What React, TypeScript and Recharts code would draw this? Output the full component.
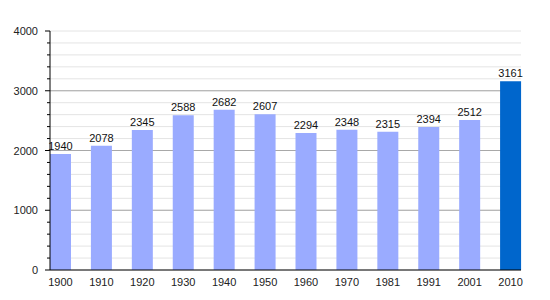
import { BarChart, Bar, XAxis, YAxis, CartesianGrid, LabelList, Cell } from "recharts";

const years = ["1900", "1910", "1920", "1930", "1940", "1950", "1960", "1970", "1981", "1991", "2001", "2010"];
const population = [1940, 2078, 2345, 2588, 2682, 2607, 2294, 2348, 2315, 2394, 2512, 3161];
const yTicks = [0, 200, 400, 600, 800, 1000, 1200, 1400, 1600, 1800, 2000, 2200, 2400, 2600, 2800, 3000, 3200, 3400, 3600, 3800, 4000];
const majorTicks = [1000, 2000, 3000];

const data = years.map((year, i) => ({ year, population: population[i] }));

const FONT = "'Liberation Sans', Arial, Helvetica, sans-serif";

const YTick = (props: any) => {
  const { x, y, payload } = props;
  const major = payload.value % 1000 === 0;
  return (
    <g>
      <line x1={x - (major ? 5 : 3)} x2={x} y1={y} y2={y} stroke="#000" strokeWidth={1} />
      {major && (
        <text x={x - 12} y={y} textAnchor="end" dominantBaseline="central" fontSize={11} fill="#222" fontFamily={FONT}>
          {payload.value}
        </text>
      )}
    </g>
  );
};

export default function App() {
  return (
    <div style={{ position: "absolute", left: 0, top: 0, background: "#fff" }}>
      <BarChart width={550} height={300} data={data} margin={{ top: 31, right: 29, bottom: 10, left: 0 }}>
        <CartesianGrid vertical={false} stroke="#e4e4e4" />
        <CartesianGrid vertical={false} stroke="#a8a8a8" horizontalValues={majorTicks} />
        <XAxis
          dataKey="year"
          padding={{ left: -10, right: -10 }}
          tickLine={false}
          axisLine={{ stroke: "#000" }}
          tick={{ fontSize: 11, fill: "#222", fontFamily: FONT }}
          tickMargin={2}
          height={20}
          interval={0}
        />
        <YAxis
          domain={[0, 4000]}
          ticks={yTicks}
          interval={0}
          width={50}
          tickLine={false}
          tickSize={0}
          tickMargin={0}
          axisLine={{ stroke: "#000" }}
          tick={<YTick />}
        />
        <Bar dataKey="population" barSize={21} isAnimationActive={false}>
          {data.map((d, i) => (
            <Cell key={d.year} fill={i === data.length - 1 ? "#0066cc" : "#9aabff"} />
          ))}
          <LabelList dataKey="population" position="top" offset={4} fontSize={11} fill="#111" fontFamily={FONT} />
        </Bar>
      </BarChart>
    </div>
  );
}
